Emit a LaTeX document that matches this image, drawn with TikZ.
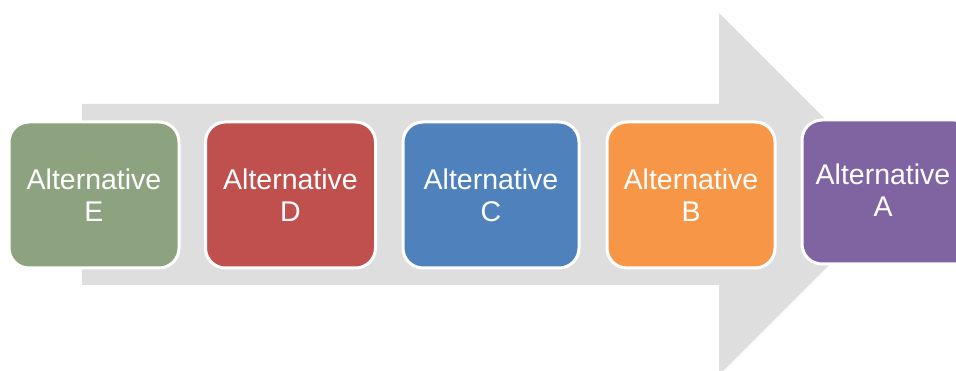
\documentclass[tikz,border=0pt]{standalone}
\usepackage{fontspec}
\setmainfont{Liberation Sans}
\definecolor{arrowgray}{HTML}{DEDEDE}
\definecolor{altE}{HTML}{8DA37F}
\definecolor{altD}{HTML}{C0504D}
\definecolor{altC}{HTML}{4F81BD}
\definecolor{altB}{HTML}{F79646}
\definecolor{altA}{HTML}{8064A2}
\tikzset{
  altbox/.style={rectangle, rounded corners=20pt, draw=white, line width=3pt,
    minimum height=146pt, inner sep=0pt, text=white, align=center,
    font=\fontsize{28.5}{32}\selectfont},
  alttext/.style={text=white, align=center, inner sep=0pt,
    font=\fontsize{28.5}{32}\selectfont}
}
\begin{document}
\begin{tikzpicture}[x=1pt,y=-1pt]
\useasboundingbox (0,0) rectangle (956,371);
\begin{scope}
\clip (0,0) rectangle (956,371);
\fill[arrowgray] (82,104) -- (719,104) -- (719,13) -- (900,194) -- (719,375)
  -- (719,285) -- (82,285) -- cycle;
\node[altbox, fill=altE, minimum width=170pt] (E) at (94,195) {Alternative\\E};
\node[altbox, fill=altD, minimum width=170pt] (D) at (290.5,195) {Alternative\\D};
\node[altbox, fill=altC, minimum width=176pt] (C) at (491,195) {Alternative\\C};
\node[altbox, fill=altB, minimum width=168pt] (B) at (691,195) {Alternative\\B};
\node[altbox, fill=altA, minimum width=172pt, minimum height=144pt] (A) at (888,192) {};
\end{scope}
\node[alttext] (At) at (883,190) {Alternative\\A};
\end{tikzpicture}
\end{document}
